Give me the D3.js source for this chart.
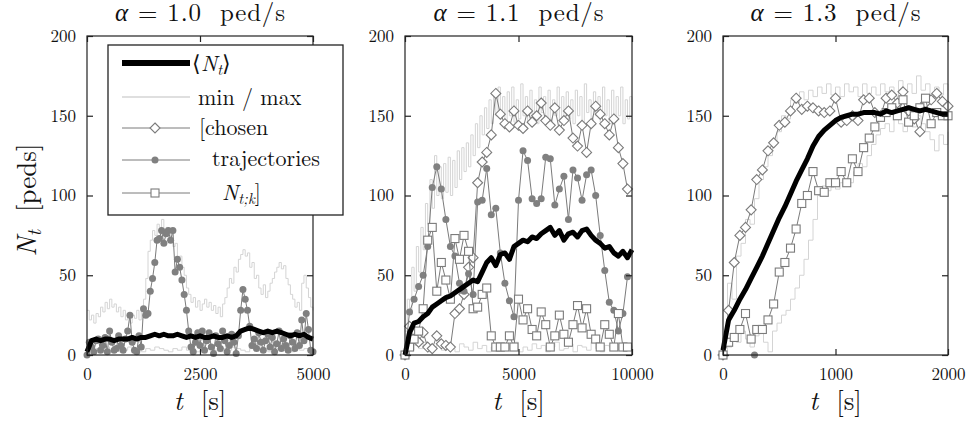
<!DOCTYPE html>
<html>
<head>
<meta charset="utf-8">
<script src="https://cdn.jsdelivr.net/npm/d3@7"></script>
<style>
  body { margin: 0; background: #fff; }
</style>
</head>
<body>
<svg id="chart" width="968" height="425"></svg>
<script>
// ---------------- data ----------------
const yTickValues = [0, 50, 100, 150, 200];
const titles = ["1.0", "1.1", "1.3"];
const xTickValues = [[0, 2500, 5000], [0, 5000, 10000], [0, 1000, 2000]];

// alpha = 1.0 ped/s  (t = 0 … 5000 s)
const p1Mean = [2,9,10,9,10,10,9,10,10,10, 11,10,11,11,12,13,12,13,12,12, 13,12,11,12,11,12,11,11,12,11,
                11,12,11,12,15,16,17,16,15,14, 15,14,15,14,13,12,13,12,13,11,10];          // every 100 s
const p1Max  = [28,22,25,20,26,24,30,27,33,29,35,30,32,27,30,24,28,22,26,20,25,
                23,28,22,30,35,48,65,72,78,75,82,80,85,78,80,72,76,68,70,60,
                62,55,50,42,38,33,36,30,34,28,32,35,30,33,28,31,26,30,24,32,
                36,42,48,45,55,52,60,63,66,62,64,55,58,48,50,42,38,44,36,40,
                45,48,52,55,58,54,56,48,44,38,35,30,33,28,45,50,42,36,30,28];              // every 50 s
const p1Min  = [0,3,4,2,5,3,4,2,3,5, 4,3,2,4,3,5,4,3,2,4, 3,5,3,4,2,3,4,5,3,2,
                4,3,5,4,3,2,4,3,5,4, 2,3,4,3,5,2,4,3,4,3,2];                               // every 100 s
const p1Circle = [0,8,5,2,9,10,3,6,11,2, 15,8,3,4,12,6,3,10,15,25, 8,3,2,12,5,29,25,26,40,48,
                  58,72,73,78,70,76,78,72,78,52, 60,55,47,38,28,15,5,2,8,14, 6,15,3,9,14,5,1,12,7,4,
                  15,9,2,6,13,8,1,12,28,41, 35,28,18,6,10,4,14,8,3,9, 13,5,11,2,7,15,4,10,6,3,
                  12,8,4,14,6,22,9,26,16,3,2];                                             // every 50 s

// alpha = 1.1 ped/s  (t = 0 … 10000 s)
const p2Mean = [0,14,20,21,24, 26,30,32,34,36, 37,39,41,43,45, 47,46,52,58,61, 56,63,64,60,68,
                70,72,71,74,73, 76,78,80,75,78, 72,76,77,74,78, 79,75,72,70,67, 68,64,62,65,61, 66];  // every 200 s
const p2Max  = [15,35,28,55,40,68,52,80,66,95,82,
                110,92,125,100,118,98,120,102,124,100,
                122,105,128,110,130,115,133,118,138,125,
                145,130,150,138,155,142,160,145,165,150,
                168,148,162,145,165,150,168,146,160,148,
                170,150,162,146,166,150,160,145,168,152,
                162,148,166,145,160,150,168,146,162,150,
                165,148,160,145,166,150,162,146,170,152,
                160,145,165,150,162,146,168,150,160,145,
                166,148,162,150,168,145,160,148,162,150];                                  // every 100 s
const p2Min  = [0,3,6,4,8,2,5,7,3,6, 4,2,7,5,3,8,4,6,2,5, 7,3,4,6,8,2,5,3,7,4,
                6,2,5,8,3,4,7,2,6,5, 3,8,4,2,6,5,7,3,4,6,3];                               // every 200 s
const p2Diamond = [0,18,10,8,14, 5,4,12,7,6, 5,26,29,38,55, 61,108,121,127,138,
                   164,151,145,143,153, 144,142,153,146,150, 158,147,144,155,141,
                   147,153,136,131,144, 127,145,156,151,145, 138,148,130,120,104];        // every 200 s
const p2Circle  = [0,27,35,43,50, 68,105,118,104,85, 68,62,45,40,51, 38,96,97,117,88,
                   92,64,45,34,24, 97,128,122,98,95, 98,124,123,94,104,
                   112,85,116,111,97, 113,116,100,75,53, 33,28,15,26,49];                 // every 200 s
const p2Square  = [0,5,10,15,29, 72,80,40,58,47, 35,73,60,75,65, 29,30,38,42,12,
                   5,5,5,12,5, 35,22,29,16,12, 27,19,5,12,25, 13,8,19,31,17,
                   29,13,10,5,19, 13,5,26,5,5];                                            // every 200 s

// alpha = 1.3 ped/s  (t = 0 … 2000 s)
const p3Mean = [3,22,28,35,41, 48,55,62,70,78, 86,93,101,109,116, 123,131,137,141,144,
                147,149,150,151,151, 152,152,152,151,153, 152,153,154,155,154, 153,154,153,152,151, 151]; // every 50 s
const p3Max  = [10,45,35,62,70, 85,82,98,110,118, 125,133,140,150,148, 160,158,165,160,166,
                162,168,164,170,163, 168,162,170,165,168, 162,170,164,168,163, 170,165,168,162,172,
                166,170,164,175,166, 170,162,168,163,170,166];                             // every 40 s
const p3Min  = [0,5,12,8,15, 10,5,12,18,8, 2,15,20,25,28, 35,42,50,60,72, 85,100,106,103,108,
                104,108,110,108,115, 120,118,125,132,138, 142,145,140,148,145, 140,148,143,150,145,
                140,135,128,138,132,140];                                                  // every 40 s
const p3Diamond = [0,28,58,75,80, 91,110,116,128,133, 144,146,153,161,154, 156,155,153,152,153,
                   161,146,147,150,147, 160,161,152,150,161, 163,158,165,153,148, 140,158,160,164,159, 156]; // every 50 s
const p3Circle  = [0];                                                                     // at t = 280 s
const p3Square  = [0,8,11,16,26, 10,16,16,22,32, 52,58,67,79,95, 100,115,103,102,108,
                   108,115,108,123,115, 130,136,143,149,152, 155,150,160,146,150, 155,161,145,152,150, 150]; // every 50 s

// ---------------- layout ----------------
const plotTop = 36, plotBottom = 355;
const FONT = '"Latin Modern Roman", "Liberation Serif", serif';
const panels = [
  { left: 87,  right: 313, xMax: 5000,
    mean: {t0: 0, step: 100, v: p1Mean}, max: {t0: 0, step: 50, v: p1Max}, min: {t0: 0, step: 100, v: p1Min},
    diamond: null, circle: {t0: 0, step: 50, v: p1Circle}, square: null },
  { left: 405, right: 632, xMax: 10000,
    mean: {t0: 0, step: 200, v: p2Mean}, max: {t0: 0, step: 100, v: p2Max}, min: {t0: 0, step: 200, v: p2Min},
    diamond: {t0: 0, step: 200, v: p2Diamond}, circle: {t0: 0, step: 200, v: p2Circle}, square: {t0: 0, step: 200, v: p2Square} },
  { left: 723, right: 948, xMax: 2000,
    mean: {t0: 0, step: 50, v: p3Mean}, max: {t0: 0, step: 40, v: p3Max}, min: {t0: 0, step: 40, v: p3Min},
    diamond: {t0: 0, step: 50, v: p3Diamond}, circle: {t0: 280, step: 50, v: p3Circle}, square: {t0: 0, step: 50, v: p3Square} }
];

const GRAY_LINE = "#d4d4d4", TRAJ = "#7b7b7b", DOT = "#808080", FRAME = "#222", INK = "#111";
const svg = d3.select("#chart");
const toPts = s => s.v.map((n, i) => [s.t0 + i * s.step, n]);
const diamondPath = (cx, cy, r) => `M${cx},${cy - r}L${cx + r},${cy}L${cx},${cy + r}L${cx - r},${cy}Z`;
const label = (sel, size) => sel.style("font-family", FONT).style("font-size", size).attr("fill", INK).style("white-space", "pre");

panels.forEach((p, k) => {
  const x = d3.scaleLinear().domain([0, p.xMax]).range([p.left, p.right]);
  const y = d3.scaleLinear().domain([0, 200]).range([plotBottom, plotTop]);
  const g = svg.append("g");
  const line = d3.line().x(d => x(d[0])).y(d => y(d[1]));
  const stepLine = d3.line().curve(d3.curveStepAfter).x(d => x(d[0])).y(d => y(d[1]));

  // envelope (min / max)
  [p.max, p.min].forEach(s => {
    g.append("path").attr("d", stepLine(toPts(s)))
      .attr("fill", "none").attr("stroke", GRAY_LINE).attr("stroke-width", 1);
  });

  // chosen trajectories
  if (p.diamond) {
    const pts = toPts(p.diamond);
    g.append("path").attr("d", line(pts)).attr("fill", "none").attr("stroke", TRAJ).attr("stroke-width", 1);
    g.selectAll(null).data(pts).join("path")
      .attr("d", d => diamondPath(x(d[0]), y(d[1]), 5))
      .attr("fill", "#fff").attr("stroke", TRAJ).attr("stroke-width", 1.1);
  }
  if (p.circle) {
    const pts = toPts(p.circle);
    g.append("path").attr("d", line(pts)).attr("fill", "none").attr("stroke", TRAJ).attr("stroke-width", 1);
    g.selectAll(null).data(pts).join("circle")
      .attr("cx", d => x(d[0])).attr("cy", d => y(d[1])).attr("r", 3.5)
      .attr("fill", DOT);
  }
  if (p.square) {
    const pts = toPts(p.square);
    g.append("path").attr("d", line(pts)).attr("fill", "none").attr("stroke", TRAJ).attr("stroke-width", 1);
    g.selectAll(null).data(pts).join("rect")
      .attr("x", d => x(d[0]) - 4).attr("y", d => y(d[1]) - 4).attr("width", 8).attr("height", 8)
      .attr("fill", "#fff").attr("stroke", TRAJ).attr("stroke-width", 1.1);
  }

  // ensemble mean
  g.append("path").attr("d", line(toPts(p.mean)))
    .attr("fill", "none").attr("stroke", "#000").attr("stroke-width", 5).attr("stroke-linejoin", "round");

  // frame and ticks
  g.append("rect").attr("x", p.left).attr("y", plotTop).attr("width", p.right - p.left).attr("height", plotBottom - plotTop)
    .attr("fill", "none").attr("stroke", FRAME).attr("stroke-width", 1.2);

  const styleAxis = a => {
    a.select(".domain").remove();
    a.selectAll(".tick line").attr("stroke", FRAME).attr("stroke-width", 1.2);
    label(a.selectAll(".tick text"), "17px");
  };
  g.append("g").attr("transform", `translate(${p.left},0)`)
    .call(d3.axisLeft(y).tickValues(yTickValues).tickSizeInner(-6).tickSizeOuter(0).tickPadding(11)).call(styleAxis);
  g.append("g").attr("transform", `translate(${p.right},0)`)
    .call(d3.axisRight(y).tickValues(yTickValues).tickSizeInner(-6).tickSizeOuter(0).tickFormat(() => "")).call(styleAxis);
  g.append("g").attr("transform", `translate(0,${plotBottom})`)
    .call(d3.axisBottom(x).tickValues(xTickValues[k]).tickSizeInner(-6).tickSizeOuter(0).tickPadding(13).tickFormat(d3.format("d"))).call(styleAxis);
  g.append("g").attr("transform", `translate(0,${plotTop})`)
    .call(d3.axisTop(x).tickValues(xTickValues[k]).tickSizeInner(-6).tickSizeOuter(0).tickFormat(() => "")).call(styleAxis);

  // title
  const cx = (p.left + p.right) / 2;
  const t = label(g.append("text"), "25px").attr("x", cx).attr("y", 21).attr("text-anchor", "middle")
    .attr("textLength", 170).attr("lengthAdjust", "spacing");
  t.append("tspan").attr("font-style", "italic").text("α");
  t.append("tspan").text(` = ${titles[k]}  ped/s`);

  // x label
  const xl = label(g.append("text"), "27px").attr("x", cx).attr("y", 410).attr("text-anchor", "middle");
  xl.append("tspan").attr("font-style", "italic").text("t");
  xl.append("tspan").text("  [s]");
});

// y label
const yl = label(svg.append("text"), "27px").attr("transform", "translate(36,200) rotate(-90)").attr("text-anchor", "middle");
yl.append("tspan").attr("font-style", "italic").text("N");
yl.append("tspan").attr("font-style", "italic").style("font-size", "19px").attr("dy", 5).text("t");
yl.append("tspan").attr("dy", -5).text("  [peds]");

// ---------------- legend ----------------
const lg = svg.append("g");
lg.append("rect").attr("x", 108).attr("y", 45).attr("width", 235).attr("height", 170)
  .attr("fill", "#fff").attr("stroke", FRAME).attr("stroke-width", 1.3);
const lx0 = 122, lx1 = 190, lmid = 155;
lg.append("line").attr("x1", lx0).attr("x2", lx1).attr("y1", 63).attr("y2", 63).attr("stroke", "#000").attr("stroke-width", 6);
lg.append("line").attr("x1", lx0).attr("x2", lx1).attr("y1", 97).attr("y2", 97).attr("stroke", GRAY_LINE).attr("stroke-width", 1.5);
[128, 160, 193].forEach(yy => lg.append("line").attr("x1", lx0).attr("x2", lx1).attr("y1", yy).attr("y2", yy).attr("stroke", TRAJ).attr("stroke-width", 1));
lg.append("path").attr("d", diamondPath(lmid, 128, 5)).attr("fill", "#fff").attr("stroke", TRAJ).attr("stroke-width", 1.1);
lg.append("circle").attr("cx", lmid).attr("cy", 160).attr("r", 3.5).attr("fill", DOT);
lg.append("rect").attr("x", lmid - 4).attr("y", 189).attr("width", 8).attr("height", 8).attr("fill", "#fff").attr("stroke", TRAJ).attr("stroke-width", 1.1);

const lfs = "22px";
const e1 = label(lg.append("text"), lfs).attr("x", 192).attr("y", 71);
e1.append("tspan").text("⟨");
e1.append("tspan").attr("font-style", "italic").text("N");
e1.append("tspan").attr("font-style", "italic").style("font-size", "15px").attr("dy", 4).text("t");
e1.append("tspan").attr("dy", -4).text("⟩");
label(lg.append("text"), lfs).attr("x", 198).attr("y", 105).text("min / max");
label(lg.append("text"), lfs).attr("x", 199).attr("y", 135).text("[chosen");
label(lg.append("text"), lfs).attr("x", 212).attr("y", 166).text("trajectories");
const e5 = label(lg.append("text"), lfs).attr("x", 222).attr("y", 200);
e5.append("tspan").attr("font-style", "italic").text("N");
e5.append("tspan").attr("font-style", "italic").style("font-size", "15px").attr("dy", 4).text("t;k");
e5.append("tspan").attr("dy", -4).text("]");
</script>
</body>
</html>
